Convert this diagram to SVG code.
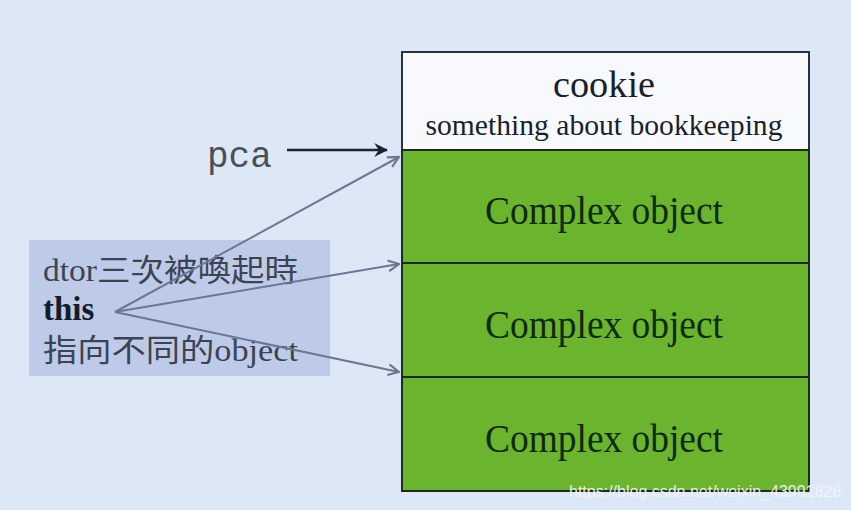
<svg xmlns="http://www.w3.org/2000/svg" width="851" height="510" viewBox="0 0 851 510">
<style>
.serif{font-family:"Liberation Serif","Noto Sans CJK TC",serif;}
.cell{fill:#6ab42e;stroke:#1e2a1e;stroke-width:2;}
.big{font-size:40px;fill:#0f2a0a;text-anchor:middle;}
.lbl{font-size:31px;fill:#3c4452;}
.gray{stroke:#6b7890;stroke-width:2;fill:none;marker-end:url(#ga);}
</style>
<defs>
<marker id="ga" viewBox="0 0 12 12" refX="11" refY="6" markerWidth="13" markerHeight="13" markerUnits="userSpaceOnUse" orient="auto"><path d="M1,1 L11,6 L1,11" fill="none" stroke="#6b7890" stroke-width="2"/></marker>
<marker id="ba" viewBox="0 0 12 12" refX="11" refY="6" markerWidth="14" markerHeight="14" markerUnits="userSpaceOnUse" orient="auto"><path d="M0,0 L12,6 L0,12 L4,6 Z" fill="#1a2233"/></marker>
</defs>
<rect width="851" height="510" fill="#dde8f6"/>
<g id="label">
<rect x="29" y="240" width="301" height="136" fill="#bdcbe9"/>
<text class="serif lbl" x="43" y="281" textLength="255" lengthAdjust="spacingAndGlyphs">dtor三次被喚起時</text>
<text class="serif" x="43" y="320" font-size="33" font-weight="bold" fill="#141c2c">this</text>
<text class="serif lbl" x="43" y="361" textLength="255" lengthAdjust="spacingAndGlyphs">指向不同的object</text>
</g>
<g id="cookie">
<rect x="402" y="52" width="407" height="98" fill="#f7f9fc" stroke="#2a3040" stroke-width="2"/>
<text class="serif" x="604" y="97" font-size="37" text-anchor="middle" fill="#1a1f2a" textLength="102" lengthAdjust="spacingAndGlyphs">cookie</text>
<text class="serif" x="604" y="135" font-size="30" text-anchor="middle" fill="#1a1f2a" textLength="357" lengthAdjust="spacingAndGlyphs">something about bookkeeping</text>
</g>
<g id="obj1">
<rect class="cell" x="402" y="150" width="407" height="113"/>
<text class="serif big" x="604" y="224" textLength="238" lengthAdjust="spacingAndGlyphs">Complex object</text>
</g>
<g id="obj2">
<rect class="cell" x="402" y="263" width="407" height="114"/>
<text class="serif big" x="604" y="338" textLength="238" lengthAdjust="spacingAndGlyphs">Complex object</text>
</g>
<g id="obj3">
<rect class="cell" x="402" y="377" width="407" height="114"/>
<text class="serif big" x="604" y="452" textLength="238" lengthAdjust="spacingAndGlyphs">Complex object</text>
</g>
<g id="pca">
<text x="207" y="167" font-family="Liberation Mono, monospace" font-size="36" fill="#4a505a">pca</text>
</g>
<g id="connectors">
<line x1="287" y1="150" x2="387" y2="150" stroke="#1a2233" stroke-width="2.5" marker-end="url(#ba)"/>
<line class="gray" x1="115" y1="312" x2="399" y2="157"/>
<line class="gray" x1="115" y1="312" x2="399" y2="264"/>
<line class="gray" x1="115" y1="312" x2="399" y2="372"/>
</g>
<text x="569" y="497" font-family="Liberation Sans, sans-serif" font-size="16" fill="#f4f6fa" opacity="0.9">https://blog.csdn.net/weixin_43991826</text>
</svg>
